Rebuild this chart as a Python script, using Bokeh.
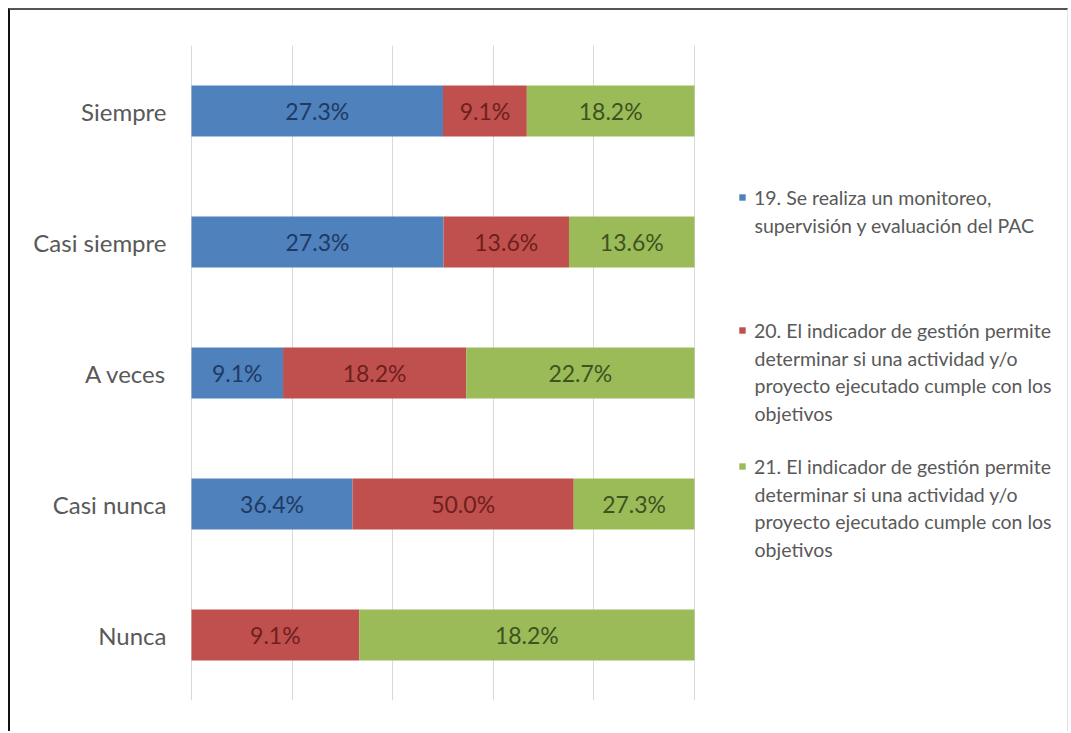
from bokeh.plotting import figure
from bokeh.models import ColumnDataSource, FixedTicker, Range1d, Legend, LegendItem, Label
from bokeh.core.properties import value
from bokeh.embed import file_html
from bokeh.resources import INLINE

categories = ["Siempre", "Casi siempre", "A veces", "Casi nunca", "Nunca"]
s19 = [27.3, 27.3, 9.1, 36.4, 0.0]
s20 = [9.1, 13.6, 18.2, 50.0, 9.1]
s21 = [18.2, 13.6, 22.7, 27.3, 18.2]
series_names = [
    ["19. Se realiza un monitoreo,", "supervisión y evaluación del PAC"],
    ["20. El indicador de gestión permite", "determinar si una actividad y/o",
     "proyecto ejecutado cumple con los", "objetivos"],
    ["21. El indicador de gestión permite", "determinar si una actividad y/o",
     "proyecto ejecutado cumple con los", "objetivos"],
]
colors = ["#4F81BD", "#C0504D", "#9BBB59"]
text_colors = ["#1F3A63", "#6E1F1D", "#3E5320"]

FONT = "Lato"
W, H = 1060, 723
BT, BL, BR = 2, 2, 1          # css borders (outside the canvas)
OX, OY = 8 + BL, 8 + BT       # canvas origin in picture
FRAME_L, FRAME_T, FRAME_B = 190, 45, 700
BAR_L, BAR_R = 191, 694
CW, CH = W, H
ML = FRAME_L - OX
MT = FRAME_T - OY
MB = CH - (FRAME_B - OY)
FW = CW - ML
FH = FRAME_B - FRAME_T
s = 1.0 / (BAR_R - BAR_L)
x0 = -(BAR_L - FRAME_L) * s
x1 = x0 + FW * s

LEG_FS = 19.5
LINE = 27.6
leg_first = [197, 330, 466]
leg_sq_x = 738
leg_txt_x = 754

series = [s19, s20, s21]
totals = [a + b + c for a, b, c in zip(s19, s20, s21)]

p = figure(width=W, height=H, output_backend="svg", toolbar_location=None,
           y_range=list(reversed(categories)), x_range=Range1d(x0, x1))
p.styles = {"border-top": f"{BT}px solid #555", "border-left": f"{BL}px solid #111",
            "border-right": f"{BR}px solid #e4e4e4",
            "margin-left": "8px", "margin-top": "8px"}
p.min_border_left = ML
p.min_border_top = MT
p.min_border_bottom = MB
p.min_border_right = 0
p.outline_line_color = None
p.background_fill_color = "white"
p.border_fill_color = "white"

renderers = []
lefts = [0.0] * len(categories)
for i, vals in enumerate(series):
    shares = [v / t for v, t in zip(vals, totals)]
    rights = [l + sh for l, sh in zip(lefts, shares)]
    mids = [(l + r) / 2 for l, r in zip(lefts, rights)]
    labels = [f"{v:.1f}%" if v > 0 else "" for v in vals]
    src = ColumnDataSource(dict(y=categories, left=lefts, right=rights, mid=mids, lab=labels))
    r = p.hbar(y="y", left="left", right="right", height=0.39, source=src,
               fill_color=colors[i], line_color=None)
    p.text(x="mid", y="y", text="lab", source=src, text_align="center", text_baseline="middle",
           text_font=value(FONT), text_font_size="23px", text_color=text_colors[i])
    renderers.append(r)
    lefts = rights

for i, name_lines in enumerate(series_names):
    item_h = 24
    cy = leg_first[i] - FRAME_T
    lg = Legend(items=[LegendItem(label=name_lines[0], renderers=[renderers[i]])],
                location=(leg_sq_x - FRAME_L, FH - cy - item_h / 2),
                label_text_font=FONT, label_text_font_size=f"{LEG_FS}px",
                label_text_color="#595959", glyph_width=8, glyph_height=8,
                label_height=item_h, label_standoff=leg_txt_x - leg_sq_x - 8,
                border_line_color=None, background_fill_alpha=0,
                padding=0, margin=0, spacing=0)
    p.add_layout(lg)
    for k, line in enumerate(name_lines[1:], start=1):
        lb = Label(x=leg_txt_x - FRAME_L, y=FH - (cy + k * LINE), x_units="screen", y_units="screen",
                   text=line, text_font=FONT,
                   text_font_size=f"{LEG_FS}px", text_color="#595959",
                   text_baseline="middle", text_align="left")
        p.add_layout(lb)

p.xaxis.visible = False
p.xgrid.ticker = FixedTicker(ticks=[0, 0.2, 0.4, 0.6, 0.8, 1.0])
p.xgrid.grid_line_color = "#D9D9D9"
p.ygrid.grid_line_color = None
p.yaxis.axis_line_color = None
p.yaxis.major_tick_line_color = None
p.yaxis.minor_tick_line_color = None
p.yaxis.major_label_text_font = FONT
p.yaxis.major_label_text_font_size = "24px"
p.yaxis.major_label_text_color = "#595959"
p.yaxis.major_label_standoff = 18

open("out.html", "w").write(file_html(p, INLINE))
